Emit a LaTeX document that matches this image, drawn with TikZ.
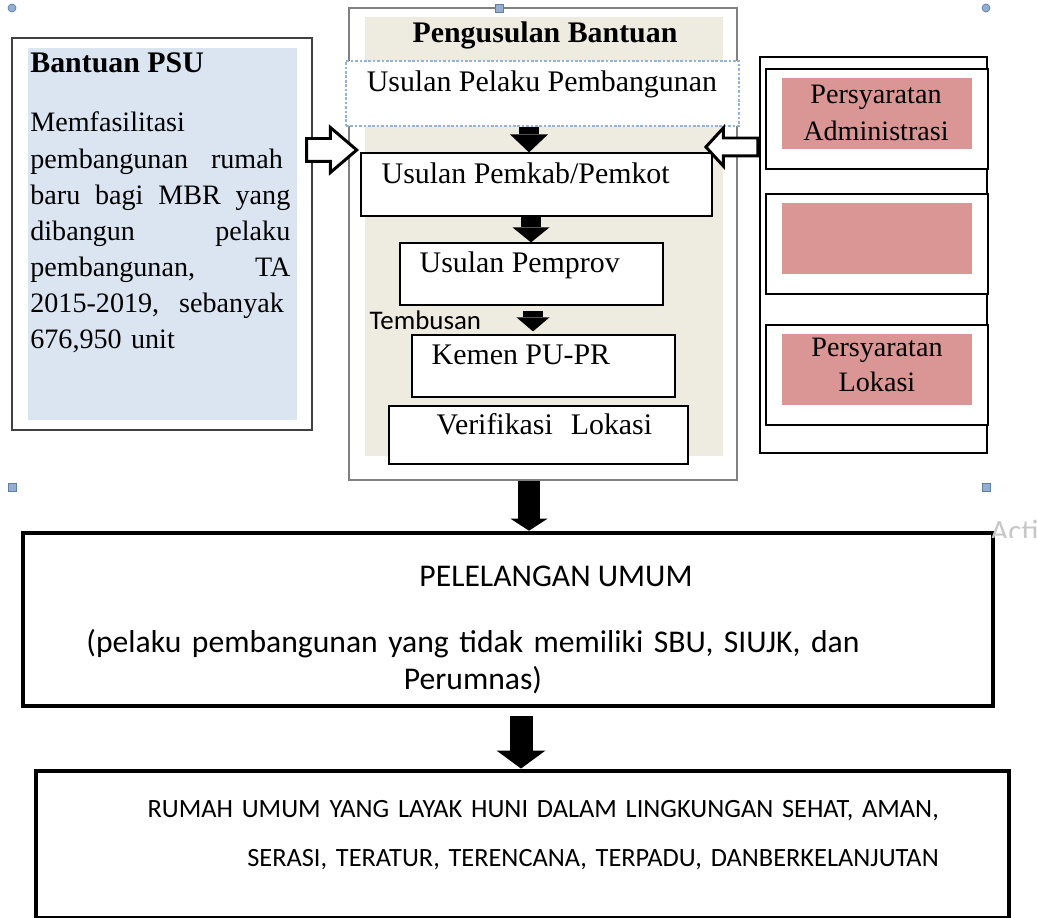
\documentclass[tikz,border=0pt]{standalone}
\usepackage{fontspec}
\setmainfont{Liberation Serif}
\newfontfamily\calibri{Carlito}
\usetikzlibrary{positioning,fit,shapes.arrows,arrows.meta}

\definecolor{psublue}{HTML}{DBE5F1}
\definecolor{beige}{HTML}{EEECE1}
\definecolor{rosepink}{HTML}{D99694}
\definecolor{dashblue}{HTML}{95B3D7}
\definecolor{handlefill}{HTML}{94AED0}
\definecolor{handleedge}{HTML}{5F7FA9}

\newcommand{\jline}[2][5.2cm]{\leavevmode\makebox[#1][l]{#2}}

\begin{document}
\begin{tikzpicture}[
    x=0.2mm,y=-0.2mm,
    panel/.style={draw=#1,line width=0.6pt,inner sep=0pt},
    stepbox/.style={draw,fill=white,line width=0.7pt,inner sep=0pt},
    pinkbox/.style={fill=rosepink,inner sep=0pt},
    bigbox/.style={draw,line width=2.6pt,inner sep=0pt},
    serif/.style={font=\fontsize{#1}{20.5}\selectfont,inner sep=0pt},
    sans/.style={font=\calibri\fontsize{#1}{21}\selectfont,inner sep=0pt},
    blockarrow/.style n args={3}{line width=#1,-{Triangle[width=#2,length=#3,line width=0pt]}},
    hollowarrow/.style={single arrow,draw,fill=white,line width=1.7pt,inner xsep=0pt,single arrow head indent=0pt},
    handle/.style={fill=handlefill,draw=handleedge,line width=0.4pt}
    ]

    \useasboundingbox (0,0) rectangle (1037,918);

    % Bantuan PSU
    \node (psu) [panel=black!75,fit={(12,38) (312,430)}] {};
    \node (psufill) [fill=psublue,inner sep=0pt,fit={(28,48) (297,420)}] {};
    \node (psutitle) [serif=17,anchor=base west] at (30,73) {\textbf{Bantuan PSU}};
    \node (psutext) [serif=16,anchor=base west,text width=5.2cm,align=left] at (30,132) {Memfasilitasi\\
      \jline[5.05cm]{pembangunan\hfill rumah}\\
      \jline{baru\hfill bagi\hfill MBR\hfill yang}\\
      \jline{dibangun\hfill pelaku}\\
      \jline{pembangunan,\hfill TA}\\
      \jline[5.07cm]{2015-2019,\hfill sebanyak}\\
      676,950 unit};

    % Pengusulan Bantuan
    \node (pengusulan) [panel=black!50,fit={(349,8) (737,480)}] {};
    \node (beigefill) [fill=beige,inner sep=0pt,fit={(365,17) (723,456)}] {};
    \node (judul) [serif=17,anchor=base] at (545,43) {\textbf{Pengusulan Bantuan}};

    \node (pelaku) [stepbox,draw=dashblue,line width=0.6pt,dash pattern=on 1.5pt off 1pt,fit={(346,61) (739,126)}] {};
    \node (pemkab) [stepbox,fit={(361,153) (712,216)}] {};
    \node (pemprov) [stepbox,fit={(400,243) (663,305)}] {};
    \node (kemen) [stepbox,fit={(412,335) (675,397)}] {};
    \node (verif) [stepbox,fit={(389,406) (688,464)}] {};

    \node [serif=17,anchor=base west] at ([shift={(21,31)}]pelaku.north west) {Usulan Pelaku Pembangunan};
    \node [serif=17,anchor=base west] at ([shift={(21,31)}]pemkab.north west) {Usulan Pemkab/Pemkot};
    \node [serif=17,anchor=base west] at ([shift={(20,30)}]pemprov.north west) {Usulan Pemprov};
    \node [serif=17,anchor=base west] at ([shift={(20,30)}]kemen.north west) {Kemen PU-PR};
    \node [serif=17,anchor=base west] at ([shift={(48,29)}]verif.north west) {Verifikasi\hspace{0.6em}Lokasi};
    \node [sans=15.3,anchor=base west] at ([shift={(-30,24)}]pemprov.south west) {Tembusan};

    \draw[blockarrow={0.4cm}{0.76cm}{0.36cm}] ([xshift=-2.7mm]pelaku.south) -- ([xshift=-2.7mm]pelaku.south |- pemkab.north);
    \draw[blockarrow={0.4cm}{0.74cm}{0.3cm}] ([xshift=-1.1mm]pemkab.south) -- ([xshift=-1.1mm]pemkab.south |- pemprov.north);
    \draw[blockarrow={0.4cm}{0.66cm}{0.28cm},shorten <=1mm,shorten >=0.6mm] ([xshift=0.3mm]pemprov.south) -- ([xshift=0.3mm]pemprov.south |- kemen.north);

    % Persyaratan
    \node (syarat) [panel=black,fit={(760,57) (987,453)}] {};
    \foreach \n/\yy in {admin/69,kosong/194,lokasi/325} {
      \node (\n) [stepbox,line width=0.6pt,fit={(766,\yy) (988,\yy+100)}] {};
      \node (\n-fill) [pinkbox,fit={(782,\yy+9) (972,\yy+80)}] {};
    }
    \node [serif=16,anchor=base,text width=3.8cm,align=center,font=\fontsize{16}{21}\selectfont] at (876,104) {Persyaratan\\Administrasi};
    \node [serif=16,anchor=base,text width=3.8cm,align=center,font=\fontsize{16}{19.5}\selectfont] at (877,357) {Persyaratan\\Lokasi};

    % hollow arrows
    \node (arrpsu) [hollowarrow,inner ysep=0.2cm,minimum height=1cm,single arrow head extend=0.22cm,single arrow tip angle=81] at (325,150) {};
    \node (arrsyarat) [hollowarrow,inner ysep=0.15cm,minimum height=1.04cm,single arrow head extend=0.2cm,single arrow tip angle=95,shape border rotate=180] at (736,147) {};

    % Pelelangan
    \node (lelang) [bigbox,fit={(23,533) (993,706)}] {};
    \node [sans=18,anchor=base] at (556,587) {PELELANGAN UMUM};
    \node [sans=18,anchor=base,text width=17cm,align=center] at (473,653) {(pelaku pembangunan yang tidak memiliki SBU, SIUJK, dan\\Perumnas)};

    \node (rumah) [bigbox,line width=2.8pt,fit={(36,771) (1009,918)}] {};
    \node [font=\calibri\fontsize{15}{28}\selectfont,inner sep=0pt,anchor=base east,text width=17cm,align=right] at (939,817) {RUMAH UMUM YANG LAYAK HUNI DALAM LINGKUNGAN SEHAT, AMAN,\\SERASI, TERATUR, TERENCANA, TERPADU, DANBERKELANJUTAN};

    \draw[blockarrow={0.44cm}{0.74cm}{0.24cm}] ([xshift=-2.8mm]pengusulan.south) -- ([xshift=-2.8mm]pengusulan.south |- lelang.north);
    \draw[blockarrow={0.46cm}{0.98cm}{0.36cm},shorten <=1.6mm] ([xshift=2.6mm]lelang.south) -- ([xshift=2.6mm]lelang.south |- rumah.north);

    % handles
    \foreach \hx in {12,986}
      \draw[handle] (\hx,8) circle[radius=0.8mm];
    \foreach \hx/\hy in {499/8,12/487,986/487}
      \draw[handle] (\hx-4,\hy-4) rectangle (\hx+4,\hy+4);

    \begin{scope}
      \clip (988,515) rectangle (1037,538);
      \node (acti) [sans=17.6,text=black!22,anchor=base west] at (990,542) {Acti};
    \end{scope}

\end{tikzpicture}
\end{document}
